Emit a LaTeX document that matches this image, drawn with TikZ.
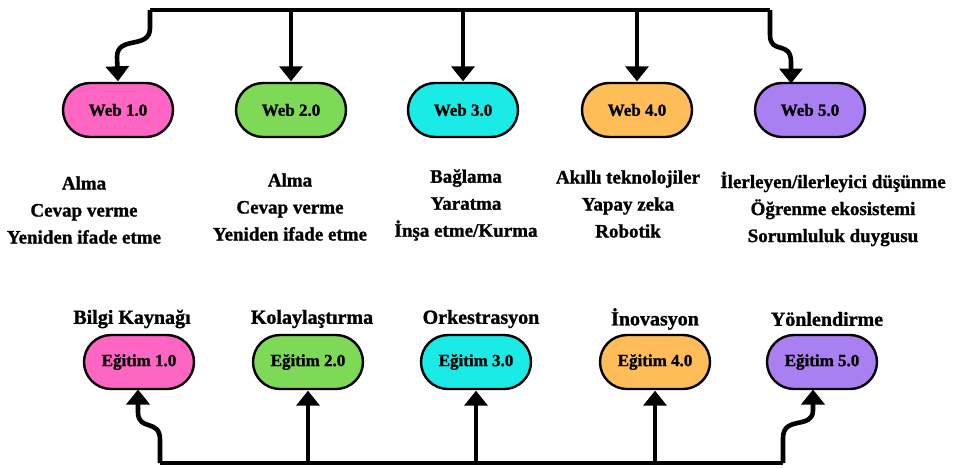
\documentclass[tikz,border=0pt]{standalone}
\usepackage{fontspec}
\setmainfont{Liberation Serif}[BoldFeatures={FakeBold=1.2}]
\usetikzlibrary{arrows.meta}
\definecolor{cpink}{HTML}{FF66C4}
\definecolor{cgreen}{HTML}{7ED957}
\definecolor{ccyan}{HTML}{1AEBE6}
\definecolor{corange}{HTML}{FFBD59}
\definecolor{cpurple}{HTML}{A97FF2}
\tikzset{
  pill/.style={draw=black, line width=2.4pt, rounded corners=27pt,
    minimum width=110pt, minimum height=54pt, inner sep=0pt,
    font=\fontsize{17}{19}\selectfont\bfseries},
  desc/.style={align=center, font=\fontsize{19}{27}\selectfont\bfseries},
  role/.style={font=\fontsize{20}{22}\selectfont\bfseries},
  bus/.style={line width=4.6pt, line join=round},
  arr/.style={bus, -{Triangle[width=23pt,length=15pt]}, shorten >=0.5pt}
}
\begin{document}
\begin{tikzpicture}[x=1pt,y=-1pt]
\useasboundingbox (0,0) rectangle (961,467);

% Web boxes
\node[pill, fill=cpink]   (w1) at (118,110) {Web 1.0};
\node[pill, fill=cgreen]  (w2) at (291,110) {Web 2.0};
\node[pill, fill=ccyan]   (w3) at (463,110) {Web 3.0};
\node[pill, fill=corange] (w4) at (637,110) {Web 4.0};
\node[pill, fill=cpurple] (w5) at (810,110) {Web 5.0};

% Descriptions
\node[desc] (d1) at (84,210)  {Alma\\Cevap verme\\Yeniden ifade etme};
\node[desc] (d2) at (290,207) {Alma\\Cevap verme\\Yeniden ifade etme};
\node[desc] (d3) at (466,205) {Bağlama\\Yaratma\\İnşa etme/Kurma};
\node[desc] (d4) at (628,204) {Akıllı teknolojiler\\Yapay zeka\\Robotik};
\node[desc] (d5) at (833,209) {İlerleyen/ilerleyici düşünme\\Öğrenme ekosistemi\\Sorumluluk duygusu};

% Education boxes
\node[pill, fill=cpink]   (e1) at (139,362) {Eğitim 1.0};
\node[pill, fill=cgreen]  (e2) at (308,362) {Eğitim 2.0};
\node[pill, fill=ccyan]   (e3) at (476,362) {Eğitim 3.0};
\node[pill, fill=corange] (e4) at (655,362) {Eğitim 4.0};
\node[pill, fill=cpurple] (e5) at (822,362) {Eğitim 5.0};

% Roles
\node[role] (r1) at (132,319) {Bilgi Kaynağı};
\node[role] (r2) at (312,319) {Kolaylaştırma};
\node[role] (r3) at (481,319) {Orkestrasyon};
\node[role] (r4) at (655,319) {İnovasyon};
\node[role] (r5) at (827,319) {Yönlendirme};

% Top bus
\coordinate (ta) at (150,10);
\coordinate (tb) at (770,10);
\coordinate (t2) at (w2.north |- ta);
\coordinate (t3) at (w3.north |- ta);
\coordinate (t4) at (w4.north |- ta);
\coordinate (w5in) at (791,84);
\draw[bus] (ta) -- (tb);
\draw[arr] (ta) -- (150,28) .. controls (150,50) and (117,35) .. (117,57) -- (w1.north);
\draw[arr] (t2) -- (w2.north);
\draw[arr] (t3) -- (w3.north);
\draw[arr] (t4) -- (w4.north);
\draw[arr] (tb) -- (770,35) .. controls (770,55) and (791,40) .. (791,62) -- (w5in);

% Bottom bus
\coordinate (ba) at (160,463);
\coordinate (bb) at (783,463);
\coordinate (b2) at (e2.south |- ba);
\coordinate (b3) at (e3.south |- ba);
\coordinate (b4) at (e4.south |- ba);
\coordinate (e1in) at (138,389);
\coordinate (e5in) at (813,389);
\draw[bus] (ba) -- (bb);
\draw[arr] (ba) -- (160,440) .. controls (160,418) and (138,432) .. (138,412) -- (e1in);
\draw[arr] (b2) -- (e2.south);
\draw[arr] (b3) -- (e3.south);
\draw[arr] (b4) -- (e4.south);
\draw[arr] (bb) -- (783,438) .. controls (783,415) and (813,430) .. (813,410) -- (e5in);
\end{tikzpicture}
\end{document}
